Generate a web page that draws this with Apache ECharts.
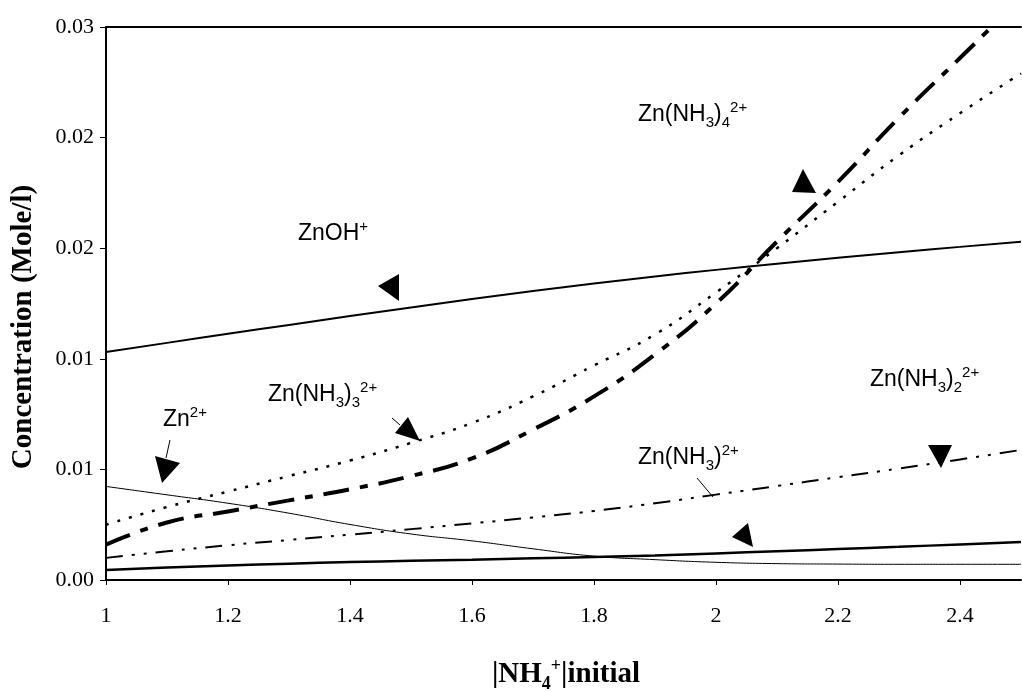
<!DOCTYPE html>
<html>
<head>
<meta charset="utf-8">
<script src="https://cdn.jsdelivr.net/npm/echarts@6/dist/echarts.min.js"></script>
<style>
  html, body { margin: 0; padding: 0; background: #fff; }
  #chart { width: 1022px; height: 692px; }
</style>
</head>
<body>
<div id="chart"></div>
<script>
// |NH4+| initial values
var xValues = [1.0, 1.1, 1.2, 1.3, 1.4, 1.5, 1.6, 1.7, 1.8, 1.9, 2.0, 2.1, 2.2, 2.3, 2.4, 2.5];
// concentrations (Mole/l)
var znOH   = [0.01031, 0.01072, 0.01113, 0.01153, 0.01193, 0.01232, 0.01270, 0.01306, 0.01340, 0.01372, 0.01402, 0.01430, 0.01457, 0.01482, 0.01506, 0.01529];
var znNH34 = [0.0016, 0.0026, 0.0031, 0.0036, 0.0041, 0.0047, 0.0055, 0.0068, 0.0083, 0.0102, 0.0125, 0.0153, 0.0180, 0.0209, 0.0236, 0.0263];
var znNH33 = [0.0025, 0.0033, 0.0040, 0.0047, 0.0054, 0.0062, 0.0071, 0.0083, 0.0097, 0.0111, 0.0130, 0.0150, 0.0171, 0.0192, 0.0211, 0.0229];
var znNH32 = [0.00100, 0.00130, 0.00157, 0.00181, 0.00205, 0.00230, 0.00256, 0.00283, 0.00312, 0.00347, 0.00386, 0.00425, 0.00465, 0.00504, 0.00545, 0.00588];
var znNH3  = [0.00045, 0.00056, 0.00066, 0.00074, 0.00081, 0.00087, 0.00092, 0.00098, 0.00104, 0.00111, 0.00120, 0.00130, 0.00140, 0.00150, 0.00161, 0.00172];
var zn2    = [0.00423, 0.00385, 0.00347, 0.00302, 0.00251, 0.00208, 0.00177, 0.00141, 0.00108, 0.00092, 0.00080, 0.00074, 0.00072, 0.00071, 0.00071, 0.00071];

var xTickLabels = ['1', '1.2', '1.4', '1.6', '1.8', '2', '2.2', '2.4'];
var yTickLabels = ['0.00', '0.01', '0.01', '0.02', '0.02', '0.03'];

function pairs(ys) {
  var out = [];
  for (var i = 0; i < xValues.length; i++) out.push([xValues[i], ys[i]]);
  return out;
}

function curve(name, ys, width, dash) {
  return {
    name: name,
    type: 'line',
    data: pairs(ys),
    showSymbol: false,
    smooth: 0.5,
    clip: true,
    lineStyle: { color: '#000', width: width, type: dash, cap: 'butt' }
  };
}

var chemRich = {
  n: { fontSize: 23, fontFamily: 'Liberation Sans', fill: '#000', lineHeight: 30, verticalAlign: 'middle' },
  s: { fontSize: 15, fontFamily: 'Liberation Sans', fill: '#000', lineHeight: 30, verticalAlign: 'bottom' },
  p: { fontSize: 15, fontFamily: 'Liberation Sans', fill: '#000', lineHeight: 30, verticalAlign: 'top' }
};

function chem(x, y, txt) {
  return { type: 'text', x: x, y: y, z: 10,
    style: { text: txt, rich: chemRich, fill: '#000', verticalAlign: 'middle', align: 'left' } };
}
function tri(pts) {
  return { type: 'polygon', z: 10, shape: { points: pts }, style: { fill: '#000' } };
}
function leader(x1, y1, x2, y2) {
  return { type: 'line', z: 10, shape: { x1: x1, y1: y1, x2: x2, y2: y2 }, style: { stroke: '#000', lineWidth: 1 } };
}

var chart = echarts.init(document.getElementById('chart'));
var option = {
  animation: false,
  backgroundColor: '#fff',
  grid: { left: 106, right: 1, top: 27, bottom: 112, outerBoundsMode: 'none' },
  xAxis: [{
    type: 'value', position: 'bottom', min: 1, max: 2.5, interval: 0.2,
    axisLine: { show: true, lineStyle: { color: '#000', width: 2 } },
    axisTick: { show: true, length: 5, lineStyle: { color: '#000', width: 1 } },
    splitLine: { show: false },
    axisLabel: {
      showMaxLabel: false, margin: 25, color: '#000',
      fontFamily: 'Liberation Serif', fontSize: 22,
      formatter: function (v) { return xTickLabels[Math.round((v - 1) / 0.2)] || ''; }
    }
  }, {
    type: 'value', position: 'top', min: 1, max: 2.5,
    axisLine: { show: true, onZero: false, lineStyle: { color: '#000', width: 2 } },
    axisTick: { show: false }, axisLabel: { show: false }, splitLine: { show: false }
  }],
  yAxis: {
    type: 'value', min: 0, max: 0.025, interval: 0.005,
    axisLine: { show: true, lineStyle: { color: '#000', width: 2 } },
    axisTick: { show: true, length: 6, lineStyle: { color: '#000', width: 1 } },
    splitLine: { show: false },
    axisLabel: {
      margin: 12, color: '#000', fontFamily: 'Liberation Serif', fontSize: 22,
      formatter: function (v) { return yTickLabels[Math.round(v / 0.005)]; }
    }
  },
  series: [
    curve('ZnOH+', znOH, 2, 'solid'),
    curve('Zn(NH3)4 2+', znNH34, 4, [26, 11, 8, 11]),
    curve('Zn(NH3)3 2+', znNH33, 2.5, [3, 9]),
    curve('Zn(NH3)2 2+', znNH32, 2, [17, 9, 3, 9, 3, 9]),
    curve('Zn(NH3) 2+', znNH3, 2.5, 'solid'),
    curve('Zn 2+', zn2, 1, 'solid')
  ],
  graphic: [
    { type: 'text', x: 24, y: 327, rotation: Math.PI / 2,
      style: { text: 'Concentration (Mole/l)', fill: '#000', font: 'bold 29px "Liberation Serif"', align: 'center', verticalAlign: 'middle' } },
    { type: 'text', x: 566, y: 675,
      style: { text: '{n||NH}{s|4}{p|+}{n||initial}', align: 'center', verticalAlign: 'middle', fill: '#000',
        rich: {
          n: { fontSize: 29, fontWeight: 'bold', fontFamily: 'Liberation Serif', fill: '#000', lineHeight: 36, verticalAlign: 'middle' },
          s: { fontSize: 18, fontWeight: 'bold', fontFamily: 'Liberation Serif', fill: '#000', lineHeight: 36, verticalAlign: 'bottom' },
          p: { fontSize: 18, fontWeight: 'bold', fontFamily: 'Liberation Serif', fill: '#000', lineHeight: 36, verticalAlign: 'top' }
        } } },
    chem(298, 234, '{n|ZnOH}{p|+}'),
    chem(638, 115, '{n|Zn(NH}{s|3}{n|)}{s|4}{p|2+}'),
    chem(268, 395, '{n|Zn(NH}{s|3}{n|)}{s|3}{p|2+}'),
    chem(163, 420, '{n|Zn}{p|2+}'),
    chem(870, 380, '{n|Zn(NH}{s|3}{n|)}{s|2}{p|2+}'),
    chem(638, 458, '{n|Zn(NH}{s|3}{n|)}{p|2+}'),
    tri([[378, 286], [399, 274], [399, 301]]),
    tri([[395, 433], [408, 417], [420, 441]]),
    leader(392, 418, 400, 425),
    tri([[792, 192], [803, 169], [816, 193]]),
    tri([[928, 445], [952, 445], [941, 468]]),
    leader(697, 478, 713, 497),
    tri([[732, 537], [748, 523], [753, 547]]),
    leader(170, 440, 166, 458),
    tri([[155, 456], [180, 463], [162, 483]])
  ]
};
chart.setOption(option);
</script>
</body>
</html>
